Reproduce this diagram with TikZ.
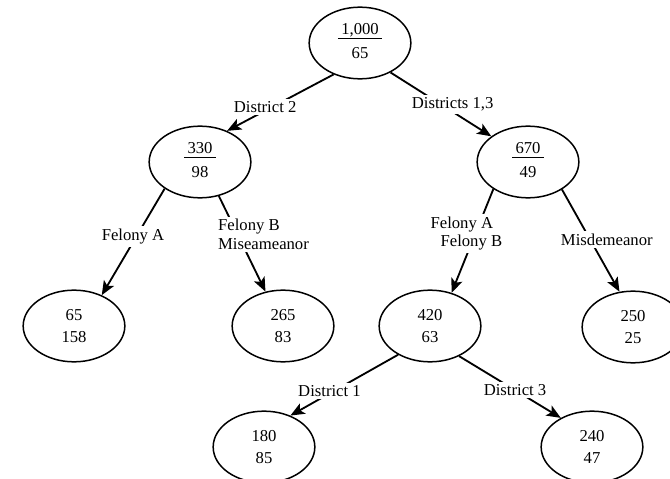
\documentclass[tikz,border=0pt]{standalone}
\usepackage{fontspec}
\setmainfont{Liberation Serif}
\usepackage{tikz}
\usetikzlibrary{positioning,arrows.meta,shapes.geometric}
\newcommand{\ratio}[2]{\begin{tabular}{@{\hspace{2pt}}c@{\hspace{2pt}}}#1\\[-1pt]\hline\rule{0pt}{12pt}#2\end{tabular}}
\newcommand{\pair}[2]{#1\\[2pt]#2}

\begin{document}
\begin{tikzpicture}[
  x=0.6pt, y=-0.6pt,
  font=\fontsize{10}{11}\selectfont,
  on grid,
  >={Stealth[length=8.5pt,width=7pt,inset=2pt]},
  cell/.style={
    ellipse, draw, line width=0.9pt, inner sep=0pt,
    minimum width=61pt, minimum height=43pt, align=center
  },
  split/.style={->, line width=1.1pt},
  splitlabel/.style={fill=white, inner sep=1.5pt, align=left}
]
  \useasboundingbox (0,0) rectangle (670,478);

  % all cases
  \node[cell] (all) at (360,43) {\ratio{1,000}{65}};

  % split by district
  \node[cell, below left=71.4pt and 96pt of all] (dist2) {\ratio{330}{98}};
  \node[cell, below right=71.4pt and 100.8pt of all] (dist13) {\ratio{670}{49}};

  % split by offense
  \node[cell, below left=98.4pt and 75.6pt of dist2] (felA) {\pair{65}{158}};
  \node[cell, below right=98.4pt and 49.8pt of dist2] (felBmis) {\pair{265}{83}};
  \node[cell, below left=98.4pt and 58.8pt of dist13] (felAB) {\pair{420}{63}};
  \node[cell, below right=99pt and 63pt of dist13] (misd) {\pair{250}{25}};

  % split of Felony A, B by district
  \node[cell, below left=72.6pt and 99.6pt of felAB] (dist1) {\pair{180}{85}};
  \node[cell, below right=72.6pt and 97.2pt of felAB] (dist3) {\pair{240}{47}};

  % Splits
  \draw[split] (all.-130) -- node[splitlabel, pos=.58, xshift=-4pt] {District 2} (dist2.49);
  \draw[split] (all.-44) -- node[splitlabel, pos=.55, xshift=4pt, yshift=2pt] {Districts 1,3} (dist13.145);
  \draw[split] (dist2.-143) -- node[splitlabel, pos=.45, xshift=-2pt] {Felony A} (felA.48);
  \draw[split] (dist2.-61) -- node[splitlabel, pos=.4, xshift=15.6pt] {Felony B\\Miseameanor} (felBmis.117);
  \draw[split] (dist13.-142) -- node[splitlabel, pos=.43, xshift=-5.4pt] {Felony A\\\hspace*{6pt}Felony B} (felAB.57);
  \draw[split] (dist13.-39) -- node[splitlabel, pos=.49, xshift=10pt] {Misdemeanor} (misd.111);
  \draw[split] (felAB.-138) -- node[splitlabel, pos=.6, xshift=-2.4pt] {District 1} (dist1.50);
  \draw[split] (felAB.-46) -- node[splitlabel, pos=.55] {District 3} (dist3.137);

\end{tikzpicture}
\end{document}
